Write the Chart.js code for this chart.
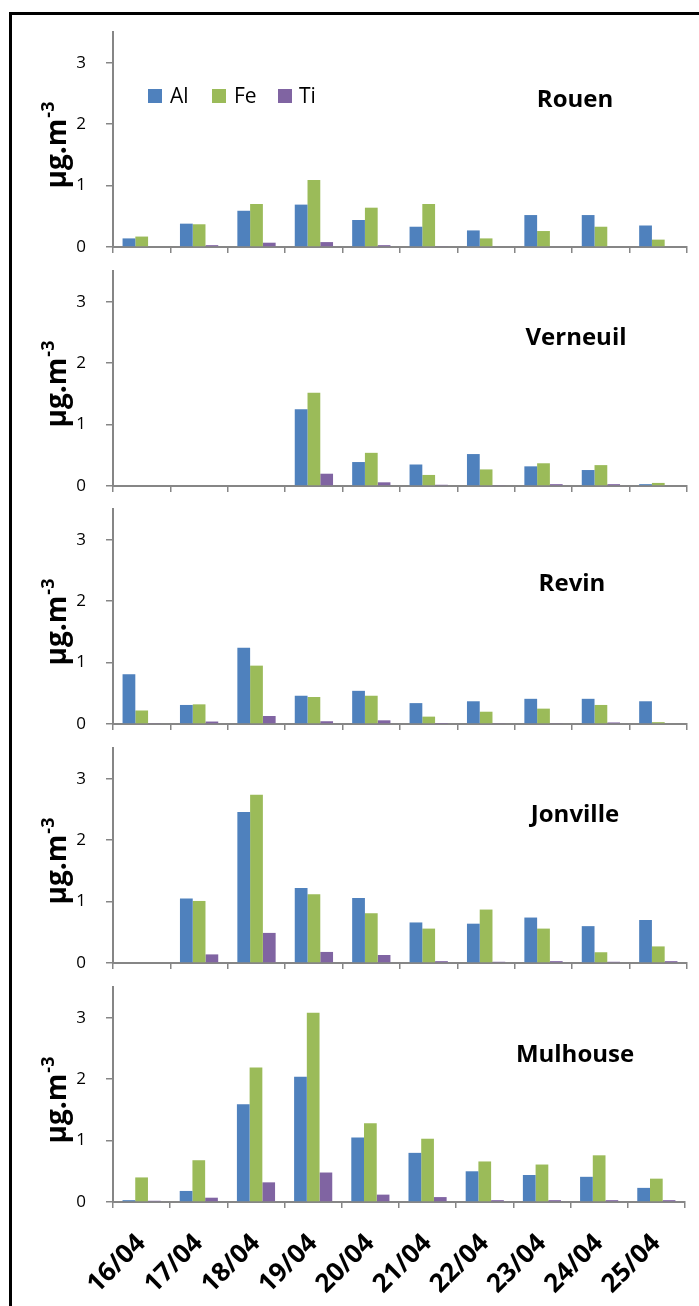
<!DOCTYPE html>
<html>
<head>
<meta charset="utf-8">
<script src="https://cdn.jsdelivr.net/npm/chart.js@4.4.1/dist/chart.umd.min.js"></script>
<style>
    html, body { margin: 0; padding: 0; background: #fff; }
    #page { position: relative; width: 699px; height: 1306px; overflow: hidden; }
    #frame { position: absolute; left: 9px; top: 12px; width: 700px; height: 1300px;
             border-left: 3px solid #000; border-top: 3px solid #000; }
    .panel { position: absolute; left: 0; width: 699px; }
</style>
</head>
<body>
<div id="page">
    <div id="frame"></div>
    <div class="panel" style="top:-8px;height:295px"><canvas id="c0"></canvas></div>
    <div class="panel" style="top:231px;height:295px"><canvas id="c1"></canvas></div>
    <div class="panel" style="top:469px;height:295px"><canvas id="c2"></canvas></div>
    <div class="panel" style="top:708px;height:295px"><canvas id="c3"></canvas></div>
    <div class="panel" style="top:947px;height:359px"><canvas id="c4"></canvas></div>
</div>
<script>
// Dates (catégories)
const days = ["16/04", "17/04", "18/04", "19/04", "20/04", "21/04", "22/04", "23/04", "24/04", "25/04"];
const yTicks = [0, 1, 2, 3];
const elements = ["Al", "Fe", "Ti"];
const colors = ["#4F81BD", "#9BBB59", "#8064A2"];

// Rouen
const rouenAl = [0.14, 0.38, 0.59, 0.69, 0.44, 0.33, 0.27, 0.52, 0.52, 0.35];
const rouenFe = [0.17, 0.37, 0.70, 1.09, 0.64, 0.70, 0.14, 0.26, 0.33, 0.12];
const rouenTi = [0.00, 0.03, 0.07, 0.08, 0.03, 0.01, 0.00, 0.00, 0.00, 0.00];

// Verneuil (pas de mesure du 16 au 18)
const verneuilAl = [null, null, null, 1.25, 0.39, 0.35, 0.52, 0.32, 0.26, 0.03];
const verneuilFe = [null, null, null, 1.52, 0.54, 0.18, 0.27, 0.37, 0.34, 0.05];
const verneuilTi = [null, null, null, 0.20, 0.06, 0.02, 0.015, 0.03, 0.03, 0.00];

// Revin
const revinAl = [0.81, 0.31, 1.24, 0.46, 0.54, 0.34, 0.37, 0.41, 0.41, 0.37];
const revinFe = [0.22, 0.32, 0.95, 0.44, 0.46, 0.12, 0.20, 0.25, 0.31, 0.03];
const revinTi = [0.015, 0.04, 0.13, 0.045, 0.06, 0.005, 0.015, 0.015, 0.025, 0.00];

// Jonville (pas de mesure le 16)
const jonvilleAl = [null, 1.05, 2.46, 1.22, 1.06, 0.66, 0.64, 0.74, 0.60, 0.70];
const jonvilleFe = [null, 1.01, 2.74, 1.12, 0.81, 0.56, 0.87, 0.56, 0.175, 0.27];
const jonvilleTi = [null, 0.14, 0.49, 0.18, 0.13, 0.03, 0.02, 0.03, 0.02, 0.03];

// Mulhouse
const mulhouseAl = [0.03, 0.18, 1.59, 2.04, 1.05, 0.80, 0.50, 0.44, 0.41, 0.23];
const mulhouseFe = [0.40, 0.68, 2.19, 3.08, 1.28, 1.03, 0.66, 0.61, 0.76, 0.38];
const mulhouseTi = [0.02, 0.07, 0.32, 0.48, 0.12, 0.08, 0.03, 0.03, 0.03, 0.03];

const sites = [
    { name: "Rouen", al: rouenAl, fe: rouenFe, ti: rouenTi, nameX: 575, nameDy: 147 },
    { name: "Verneuil", al: verneuilAl, fe: verneuilFe, ti: verneuilTi, nameX: 576, nameDy: 148 },
    { name: "Revin", al: revinAl, fe: revinFe, ti: revinTi, nameX: 572, nameDy: 140 },
    { name: "Jonville", al: jonvilleAl, fe: jonvilleFe, ti: jonvilleTi, nameX: 575, nameDy: 148 },
    { name: "Mulhouse", al: mulhouseAl, fe: mulhouseFe, ti: mulhouseTi, nameX: 575, nameDy: 147 }
];

const axisGray = "#868686";
const FONT = "'Open Sans', 'DejaVu Sans', sans-serif";

// Titre de l'axe Y avec exposant, nom du site, légende
const decorPlugin = {
    id: "decor",
    afterDraw(chart, args, opts) {
        const ctx = chart.ctx;
        const area = chart.chartArea;
        ctx.save();
        ctx.fillStyle = "#000";

        // µg.m-3 vertical
        const midY = (area.top + area.bottom) / 2 + 6;
        ctx.font = "bold 28px " + FONT;
        const mainW = ctx.measureText("µg.m").width;
        ctx.font = "bold 18px " + FONT;
        const supW = ctx.measureText("-3").width;
        ctx.translate(66, midY + (mainW + supW) / 2);
        ctx.rotate(-Math.PI / 2);
        ctx.textBaseline = "alphabetic";
        ctx.textAlign = "left";
        ctx.font = "bold 28px " + FONT;
        ctx.fillText("µg.m", 0, 0);
        ctx.font = "bold 18px " + FONT;
        ctx.fillText("-3", mainW + 1, -12);
        ctx.restore();

        // nom du site
        ctx.save();
        ctx.font = "bold 24px " + FONT;
        ctx.fillStyle = "#000";
        ctx.textAlign = "center";
        ctx.textBaseline = "middle";
        ctx.fillText(opts.name, opts.nameX, area.bottom - opts.nameDy);

        // légende (premier graphique seulement)
        if (opts.legend) {
            const ly = area.top + 64;
            const items = [[148, 170], [212, 234], [278, 299]];
            ctx.font = "21px " + FONT;
            ctx.textAlign = "left";
            items.forEach((it, i) => {
                ctx.fillStyle = colors[i];
                ctx.fillRect(it[0], ly - 7, 14, 14);
                ctx.fillStyle = "#000";
                ctx.fillText(elements[i], it[1], ly + 1);
            });
        }
        ctx.restore();
    }
};

sites.forEach((site, i) => {
    const isLast = i === sites.length - 1;
    const ctx = document.getElementById("c" + i);
    const values = [site.al, site.fe, site.ti];

    new Chart(ctx, {
        type: "bar",
        data: {
            labels: days,
            datasets: elements.map((el, k) => ({
                label: el,
                data: values[k],
                backgroundColor: colors[k],
                borderWidth: 0,
                categoryPercentage: 0.667,
                barPercentage: 1.0
            }))
        },
        options: {
            responsive: true,
            maintainAspectRatio: false,
            animation: false,
            layout: { padding: { top: 40, right: 12, left: 0, bottom: 0 } },
            plugins: {
                legend: { display: false },
                tooltip: { enabled: false },
                decor: { name: site.name, nameX: site.nameX, nameDy: site.nameDy, legend: i === 0 }
            },
            scales: {
                x: {
                    grid: { display: true, drawOnChartArea: false, drawTicks: true, tickLength: 6, color: axisGray, lineWidth: 1.5 },
                    border: { color: axisGray, width: 2 },
                    ticks: {
                        display: isLast,
                        minRotation: 45,
                        maxRotation: 45,
                        autoSkip: false,
                        padding: 20,
                        color: "#000",
                        font: { family: FONT, size: 26, weight: "bold" }
                    },
                    afterFit: s => { s.height = isLast ? 104 : 40; }
                },
                y: {
                    min: 0,
                    max: 3.5,
                    afterBuildTicks: s => { s.ticks = yTicks.map(v => ({ value: v })); },
                    grid: { display: true, drawOnChartArea: false, drawTicks: true, tickLength: 7, color: axisGray, lineWidth: 1.5 },
                    border: { color: axisGray, width: 2 },
                    ticks: {
                        padding: 20,
                        color: "#000",
                        font: { family: FONT, size: 17 }
                    },
                    afterFit: s => { s.width = 113; }
                }
            }
        },
        plugins: [decorPlugin]
    });
});
</script>
</body>
</html>
